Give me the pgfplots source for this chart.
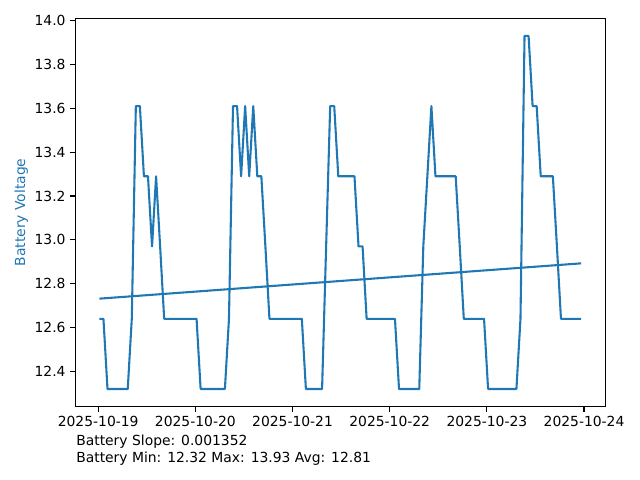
\documentclass[border=0pt]{standalone}
\usepackage{pgfplots}
\pgfplotsset{compat=1.18}
\usepackage{fontspec}
\setmainfont{DejaVu Sans}
\definecolor{mplblue}{HTML}{1F77B4}
\pgfplotstableread{
k v
0 12.64
1 12.64
2 12.32
3 12.32
4 12.32
5 12.32
6 12.32
7 12.32
8 12.64
9 13.61
10 13.61
11 13.29
12 13.29
13 12.97
14 13.29
15 12.97
16 12.64
17 12.64
18 12.64
19 12.64
20 12.64
21 12.64
22 12.64
23 12.64
24 12.64
25 12.32
26 12.32
27 12.32
28 12.32
29 12.32
30 12.32
31 12.32
32 12.64
33 13.61
34 13.61
35 13.29
36 13.61
37 13.29
38 13.61
39 13.29
40 13.29
41 12.97
42 12.64
43 12.64
44 12.64
45 12.64
46 12.64
47 12.64
48 12.64
49 12.64
50 12.64
51 12.32
52 12.32
53 12.32
54 12.32
55 12.32
56 12.97
57 13.61
58 13.61
59 13.29
60 13.29
61 13.29
62 13.29
63 13.29
64 12.97
65 12.97
66 12.64
67 12.64
68 12.64
69 12.64
70 12.64
71 12.64
72 12.64
73 12.64
74 12.32
75 12.32
76 12.32
77 12.32
78 12.32
79 12.32
80 12.97
81 13.29
82 13.61
83 13.29
84 13.29
85 13.29
86 13.29
87 13.29
88 13.29
89 12.97
90 12.64
91 12.64
92 12.64
93 12.64
94 12.64
95 12.64
96 12.32
97 12.32
98 12.32
99 12.32
100 12.32
101 12.32
102 12.32
103 12.32
104 12.64
105 13.93
106 13.93
107 13.61
108 13.61
109 13.29
110 13.29
111 13.29
112 13.29
113 12.97
114 12.64
115 12.64
116 12.64
117 12.64
118 12.64
119 12.64
}\battery
\begin{document}
\begin{tikzpicture}
\path[use as bounding box] (-54.22pt,-52.78pt) rectangle (406.58pt,292.78pt);
\begin{axis}[
  at={(0,0)}, anchor=south west,
  scale only axis, width=381.6pt, height=279.6pt,
  xmin=-5.95, xmax=124.95, ymin=12.2395, ymax=14.0105,
  xtick={-0.3,23.7,47.7,71.7,95.7,119.7},
  xticklabels={2025-10-19,2025-10-20,2025-10-21,2025-10-22,2025-10-23,2025-10-24},
  ytick={12.4,12.6,12.8,13.0,13.2,13.4,13.6,13.8,14.0},
  yticklabel style={/pgf/number format/.cd, fixed, fixed zerofill, precision=1},
  /pgf/number format/assume math mode=true,
  tick align=outside, major tick length=3.5pt,
  xtick pos=left, ytick pos=left,
  axis line style={line width=0.8pt},
  tick style={line width=0.8pt, black},
  ylabel={Battery Voltage},
  ylabel style={text=mplblue, at={(axis description cs:-0.0949,0.5)}, anchor=base},
  every tick label/.append style={font=\fontsize{10}{12}\selectfont},
]
\addplot[mplblue, line width=1.5pt, line join=round] table[x=k, y=v] {\battery};
\addplot[mplblue, line width=1.5pt] coordinates {(0,12.732) (119,12.893)};
\end{axis}
\node[anchor=base west, inner sep=0pt] at (0.5pt,-28.3pt) {Battery Slope: 0.001352};
\node[anchor=base west, inner sep=0pt] at (0.5pt,-40.2pt) {Battery Min: 12.32 Max: 13.93 Avg: 12.81};
\end{tikzpicture}
\end{document}
